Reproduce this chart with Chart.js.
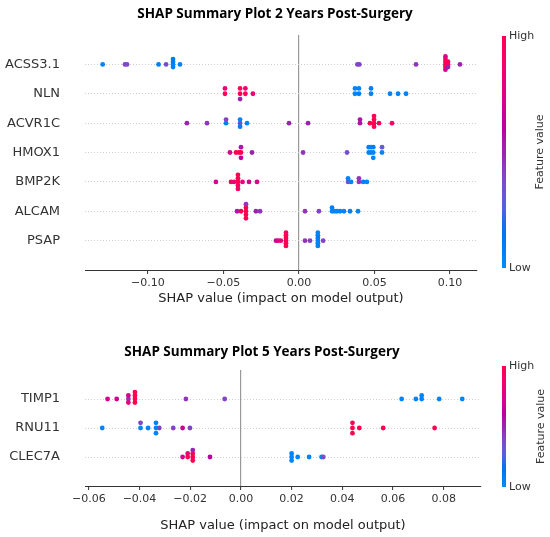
<!DOCTYPE html>
<html>
<head>
<meta charset="utf-8">
<script src="https://cdn.jsdelivr.net/npm/chart.js@4.4.0/dist/chart.umd.min.js"></script>
<style>
  html, body { margin: 0; padding: 0; background: #fff; }
  #wrap { position: relative; width: 550px; height: 537px; }
  canvas { position: absolute; left: 0; }
  #top { top: 0; }
  #bottom { top: 320px; }
</style>
</head>
<body>
<div id="wrap">
  <canvas id="top" width="550" height="320"></canvas>
  <canvas id="bottom" width="550" height="217"></canvas>
</div>
<script>
// ---------- 2 years post-surgery ----------
const features2y = ['ACSS3.1', 'NLN', 'ACVR1C', 'HMOX1', 'BMP2K', 'ALCAM', 'PSAP'];

const shapACSS = [-0.1300, -0.1152, -0.1139, -0.0930, -0.0880, -0.0834, -0.0834, -0.0834, -0.0834, -0.0788,
  0.0387, 0.0400, 0.0775, 0.0970, 0.0970, 0.0970, 0.0970, 0.0970, 0.0970, 0.0987, 0.0987, 0.0987, 0.1066];
const valACSS = [0.05, 0.38, 0.38, 0.08, 0.35, 0.05, 0.1, 0.08, 0.12, 0.05,
  0.4, 0.4, 0.45, 1.0, 0.95, 1.0, 1.0, 0.7, 0.75, 1.0, 0.95, 0.5, 0.5];

const shapNLN = [-0.0490, -0.0490, -0.0390, -0.0390, -0.0390, -0.0355, -0.0355, -0.0305,
  0.0371, 0.0371, 0.0397, 0.0397, 0.0477, 0.0477, 0.0603, 0.0656, 0.0709];
const valNLN = [0.95, 0.85, 1.0, 0.95, 0.5, 0.95, 0.85, 0.85,
  0.05, 0.05, 0.08, 0.05, 0.05, 0.1, 0.05, 0.05, 0.05];

const shapACVR = [-0.0742, -0.0609, -0.0483, -0.0483, -0.0390, -0.0390, -0.0390, -0.0344,
  -0.0066, 0.0060, 0.0404, 0.0404, 0.0470, 0.0497, 0.0497, 0.0497, 0.0497, 0.0530, 0.0616];
const valACVR = [0.5, 0.45, 0.08, 0.4, 0.35, 0.05, 0.1, 0.05,
  0.5, 0.5, 0.55, 0.55, 1.0, 1.0, 1.0, 0.95, 1.0, 0.95, 0.9];

const shapHMOX = [-0.0457, -0.0417, -0.0397, -0.0384, -0.0384, -0.0384, -0.0311,
  0.0027, 0.0318, 0.0462, 0.0462, 0.0477, 0.0477, 0.0492, 0.0492, 0.0492, 0.0550, 0.0550];
const valHMOX = [0.75, 1.0, 1.0, 1.0, 0.55, 0.6, 0.5,
  0.45, 0.35, 0.05, 0.1, 0.05, 0.05, 0.05, 0.1, 0.05, 0.05, 0.3];

const shapBMP = [-0.0550, -0.0450, -0.0430, -0.0404, -0.0404, -0.0404, -0.0404, -0.0404, -0.0374, -0.0331, -0.0278,
  0.0325, 0.0325, 0.0345, 0.0397, 0.0397, 0.0425, 0.0450];
const valBMP = [0.7, 1.0, 0.8, 1.0, 1.0, 0.95, 1.0, 0.9, 0.8, 0.7, 0.75,
  0.35, 0.05, 0.05, 0.45, 0.45, 0.08, 0.05];

const shapALCAM = [-0.0410, -0.0384, -0.0351, -0.0351, -0.0351, -0.0351, -0.0351, -0.0285, -0.0258,
  0.0040, 0.0132, 0.0219, 0.0219, 0.0235, 0.0252, 0.0272, 0.0298, 0.0338, 0.0391];
const valALCAM = [0.55, 1.0, 1.0, 1.0, 1.0, 0.45, 1.0, 0.5, 0.45,
  0.45, 0.4, 0.05, 0.08, 0.05, 0.05, 0.05, 0.05, 0.08, 0.05];

const shapPSAP = [-0.0152, -0.0138, -0.0120, -0.0086, -0.0086, -0.0086, -0.0086, -0.0086, -0.0086,
  0.0040, 0.0073, 0.0125, 0.0125, 0.0125, 0.0125, 0.0125, 0.0125, 0.0160];
const valPSAP = [0.65, 0.75, 0.85, 1.0, 1.0, 0.95, 1.0, 1.0, 0.95,
  0.45, 0.4, 0.05, 0.1, 0.05, 0.08, 0.05, 0.05, 0.4];

const ticks2y = [-0.10, -0.05, 0, 0.05, 0.10];
const tickLabels2y = ['\u22120.10', '\u22120.05', '0.00', '0.05', '0.10'];
const xRange2y = [-0.1417, 0.1179];

// ---------- 5 years post-surgery ----------
const features5y = ['TIMP1', 'RNU11', 'CLEC7A'];

const shapTIMP = [-0.0526, -0.0490, -0.0444, -0.0444, -0.0444, -0.0418, -0.0418, -0.0418, -0.0418, -0.0217, -0.0064,
  0.0634, 0.0690, 0.0713, 0.0713, 0.0782, 0.0873];
const valTIMP = [0.7, 0.7, 0.45, 0.7, 0.8, 1.0, 1.0, 1.0, 1.0, 0.45, 0.4,
  0.05, 0.05, 0.05, 0.05, 0.05, 0.05];

const shapRNU = [-0.0547, -0.0396, -0.0396, -0.0366, -0.0335, -0.0335, -0.0335, -0.0322, -0.0267, -0.0230, -0.0201,
  0.0440, 0.0440, 0.0440, 0.0467, 0.0561, 0.0764];
const valRNU = [0.05, 0.05, 0.4, 0.05, 0.05, 0.05, 0.05, 0.4, 0.4, 0.65, 0.4,
  1.0, 1.0, 1.0, 1.0, 1.0, 1.0];

const shapCLEC = [-0.0230, -0.0210, -0.0210, -0.0190, -0.0190, -0.0190, -0.0190, -0.0122,
  0.0200, 0.0200, 0.0200, 0.0224, 0.0269, 0.0318, 0.0325];
const valCLEC = [0.7, 1.0, 0.85, 1.0, 1.0, 1.0, 0.5, 0.6,
  0.05, 0.05, 0.05, 0.05, 0.05, 0.05, 0.35];

const ticks5y = [-0.06, -0.04, -0.02, 0, 0.02, 0.04, 0.06, 0.08];
const tickLabels5y = ['\u22120.06', '\u22120.04', '\u22120.02', '0.00', '0.02', '0.04', '0.06', '0.08'];
const xRange5y = [-0.0615, 0.0947];

Chart.defaults.font.family = '"DejaVu Sans"';

// shap's red_blue map: interpolation in Lch space, blue -> purple -> red
function shapColor(t) {
  const L = t < 0.5 ? 54 - 28 * t : 40 + 28 * (t - 0.5);
  const C = 70 + 20 * t;
  const H = 4.6588 + t * (0.35470565 + 2 * Math.PI - 4.6588);
  const a = C * Math.cos(H), b = C * Math.sin(H);
  const fy = (L + 16) / 116, fx = fy + a / 500, fz = fy - b / 200;
  const inv = f => f > 0.206893 ? f * f * f : (f - 16 / 116) / 7.787;
  const X = 0.95047 * inv(fx), Y = inv(fy), Z = 1.08883 * inv(fz);
  const lin = [
    3.2406 * X - 1.5372 * Y - 0.4986 * Z,
    -0.9689 * X + 1.8758 * Y + 0.0415 * Z,
    0.0557 * X - 0.2040 * Y + 1.0570 * Z
  ];
  const rgb = lin.map(c => {
    c = c > 0.0031308 ? 1.055 * Math.pow(c, 1 / 2.4) - 0.055 : 12.92 * c;
    return Math.round(255 * Math.min(1, Math.max(0, c)));
  });
  return 'rgb(' + rgb.join(',') + ')';
}

// same stacking as shap's beeswarm: bin the values, pile points of one bin up and down
function swarmOffsets(xs) {
  const lo = Math.min(...xs), hi = Math.max(...xs);
  const quant = xs.map(v => Math.round(100 * (v - lo) / (hi - lo + 1e-8)));
  const order = xs.map((_, i) => i).sort((a, b) => quant[a] - quant[b] || a - b);
  const ys = new Array(xs.length).fill(0);
  let layer = 0, last = -1;
  for (const i of order) {
    if (quant[i] !== last) layer = 0;
    ys[i] = Math.ceil(layer / 2) * ((layer % 2) * 2 - 1);
    layer++;
    last = quant[i];
  }
  const m = Math.max(...ys.map(y => y + 1));
  return ys.map(y => y * 0.9 * 0.4 / m);
}

function makeDatasets(shapRows, valueRows) {
  return shapRows.map((xs, row) => {
    const off = swarmOffsets(xs);
    return {
      data: xs.map((x, i) => ({ x: x, y: row - off[i] })),
      backgroundColor: valueRows[row].map(shapColor),
      borderWidth: 0,
      pointRadius: 2.4,
      pointHoverRadius: 2.4
    };
  });
}

const colorbar = {
  id: 'colorbar',
  afterDraw(chart, args, opts) {
    const ctx = chart.ctx;
    const g = ctx.createLinearGradient(0, opts.top, 0, opts.bottom);
    for (let i = 0; i <= 20; i++) g.addColorStop(i / 20, shapColor(1 - i / 20));
    ctx.save();
    ctx.fillStyle = g;
    ctx.fillRect(opts.x, opts.top, opts.width, opts.bottom - opts.top);
    ctx.fillStyle = '#333';
    ctx.font = '11px "DejaVu Sans"';
    ctx.textBaseline = 'middle';
    ctx.textAlign = 'left';
    ctx.fillText('High', opts.x + opts.width + 3, opts.top);
    ctx.fillText('Low', opts.x + opts.width + 3, opts.bottom);
    ctx.translate(opts.labelX, (opts.top + opts.bottom) / 2);
    ctx.rotate(-Math.PI / 2);
    ctx.textAlign = 'center';
    ctx.fillText('Feature value', 0, 0);
    ctx.restore();
  }
};

function buildChart(id, cfg) {
  return new Chart(document.getElementById(id), {
    type: 'scatter',
    data: { datasets: makeDatasets(cfg.shap, cfg.values) },
    plugins: [colorbar],
    options: {
      responsive: false,
      animation: false,
      events: [],
      layout: { padding: { left: 0, top: 0, right: cfg.padRight, bottom: cfg.padBottom } },
      plugins: {
        legend: { display: false },
        tooltip: { enabled: false },
        title: {
          display: true,
          text: cfg.title,
          color: '#000',
          font: { family: '"Open Sans"', size: 13.5, weight: 'bold' },
          padding: cfg.titlePad
        },
        colorbar: cfg.colorbar
      },
      scales: {
        x: {
          type: 'linear',
          min: cfg.xRange[0],
          max: cfg.xRange[1],
          afterBuildTicks: s => { s.ticks = cfg.ticks.map(v => ({ value: v })); },
          afterFit: s => { s.height = cfg.xAxisHeight; },
          ticks: {
            autoSkip: false,
            maxRotation: 0,
            padding: 3,
            color: '#333',
            font: { size: 11 },
            callback: (v, i) => cfg.tickLabels[i]
          },
          grid: {
            color: c => (c.tick && c.tick.value === 0) ? '#999' : 'rgba(0,0,0,0)',
            lineWidth: 1.2,
            drawTicks: true,
            tickLength: 4,
            tickColor: '#333',
            tickWidth: 1
          },
          border: { display: true, color: '#333', width: 1 },
          title: {
            display: true,
            text: 'SHAP value (impact on model output)',
            color: '#222',
            font: { size: 13 },
            padding: { top: 0, bottom: 0 }
          }
        },
        y: {
          type: 'linear',
          reverse: true,
          min: -1,
          max: cfg.features.length,
          afterBuildTicks: s => { s.ticks = cfg.features.map((_, i) => ({ value: i })); },
          afterFit: s => { s.width = 85; },
          ticks: {
            autoSkip: false,
            padding: 25,
            color: '#333',
            font: { size: 13 },
            callback: v => cfg.features[v]
          },
          grid: { color: '#cfcfcf', lineWidth: 1, drawTicks: false },
          border: { display: false, dash: [1, 2] }
        },
        side: {
          type: 'linear',
          position: 'right',
          afterFit: s => { s.width = cfg.sideWidth; },
          ticks: { display: false },
          grid: { display: false },
          border: { display: false }
        }
      }
    }
  });
}

buildChart('top', {
  title: 'SHAP Summary Plot 2 Years Post-Surgery',
  features: features2y,
  shap: [shapACSS, shapNLN, shapACVR, shapHMOX, shapBMP, shapALCAM, shapPSAP],
  values: [valACSS, valNLN, valACVR, valHMOX, valBMP, valALCAM, valPSAP],
  ticks: ticks2y,
  tickLabels: tickLabels2y,
  xRange: xRange2y,
  padRight: 0,
  sideWidth: 73,
  padBottom: 14,
  xAxisHeight: 36,
  titlePad: { top: 6, bottom: 12.8 },
  colorbar: { x: 502, width: 4, top: 36, bottom: 268, labelX: 540 }
});

buildChart('bottom', {
  title: 'SHAP Summary Plot 5 Years Post-Surgery',
  features: features5y,
  shap: [shapTIMP, shapRNU, shapCLEC],
  values: [valTIMP, valRNU, valCLEC],
  ticks: ticks5y,
  tickLabels: tickLabels5y,
  xRange: xRange5y,
  padRight: 26,
  sideWidth: 43,
  padBottom: 4,
  xAxisHeight: 47,
  titlePad: { top: 23.9, bottom: 9.9 },
  colorbar: { x: 502, width: 4, top: 46, bottom: 167, labelX: 541 }
});
</script>
</body>
</html>
